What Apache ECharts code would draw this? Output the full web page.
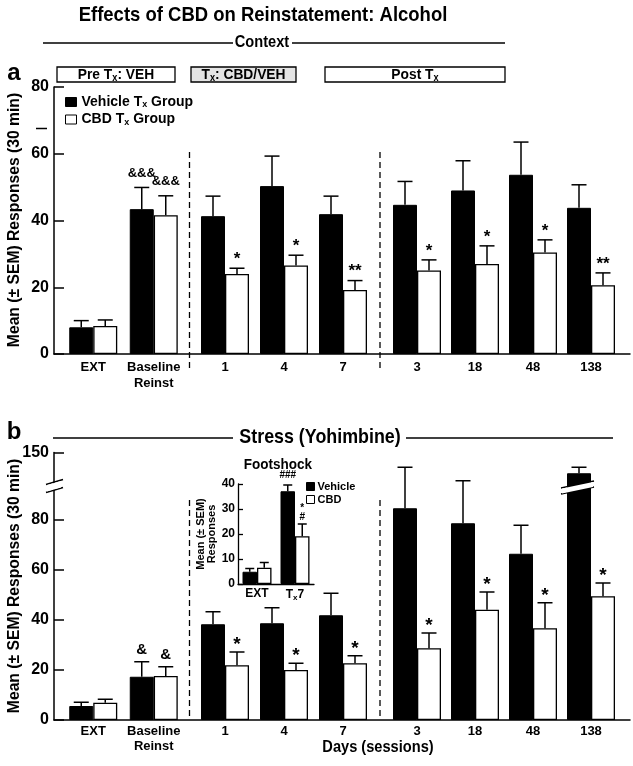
<!DOCTYPE html>
<html>
<head>
<meta charset="utf-8">
<script src="https://cdn.jsdelivr.net/npm/echarts@6/dist/echarts.min.js"></script>
<style>
  html, body { margin: 0; padding: 0; background: #fff; }
  #chart { width: 633px; height: 766px; }
</style>
</head>
<body>
<div id="chart"></div>
<script>
// ---- data ----
var dayLabels = ['EXT', 'Baseline\nReinst', '1', '4', '7', '3', '18', '48', '138'];

// panel a : context-induced reinstatement
var ctxVeh    = [8.0, 43.4, 41.3, 50.3, 41.9, 44.7, 49.0, 53.7, 43.8];
var ctxVehSem = [2.0, 6.5, 6.0, 9.0, 5.4, 7.0, 8.9, 9.8, 6.9];
var ctxCbd    = [8.4, 41.6, 24.0, 26.5, 19.2, 25.0, 27.0, 30.4, 20.6];
var ctxCbdSem = [1.8, 5.8, 1.7, 3.1, 2.8, 3.2, 5.4, 3.8, 3.7];
var ctxVehSig = ['', '&&&', '', '', '', '', '', '', ''];
var ctxCbdSig = ['', '&&&', '*', '*', '**', '*', '*', '*', '**'];

// panel b : stress (yohimbine)
var strVeh    = [5.6, 17.3, 38.3, 38.7, 41.9, 84.7, 78.7, 66.5, 141.7];
var strVehSem = [1.5, 6.0, 5.0, 6.2, 8.8, 16.4, 17.0, 11.4, 2.4];
var strCbd    = [6.9, 17.6, 21.9, 20.0, 22.7, 28.7, 44.1, 36.7, 49.5];
var strCbdSem = [1.4, 3.7, 5.3, 2.7, 3.0, 6.1, 7.1, 10.2, 5.3];
var strVehSig = ['', '&', '', '', '', '', '', '', ''];
var strCbdSig = ['', '&', '*', '*', '*', '*', '*', '*', '*'];

// inset : footshock
var fsLabels = ['EXT', 'Tx7'];
var fsVeh    = [4.9, 37.1];
var fsVehSem = [1.3, 2.5];
var fsCbd    = [6.5, 19.1];
var fsCbdSem = [2.1, 4.9];
var fsVehSig = ['', '###'];
var fsCbdSig = ['', '*\n#'];

// which days belong to Pre Tx / Tx / Post Tx
var sections = [[0, 2], [2, 5], [5, 9]];

// ---- layout ----
var FONT = '"Liberation Sans", Arial, sans-serif';
var secBox = [{ left: 63, width: 121 }, { left: 195.5, width: 177 }, { left: 388, width: 232 }];
var BAR_W = 24, CAP = 15;
var LOW_MAX = 92, HIGH_MIN = 135;

var grids = [], xAxes = [], yAxes = [], series = [];

function addGrid(g, x, y) {
  var i = grids.length;
  grids.push(g);
  x.gridIndex = i; y.gridIndex = i;
  xAxes.push(x); yAxes.push(y);
  return i;
}

function tickLabel(size) {
  return { color: '#000', fontFamily: FONT, fontWeight: 'bold', fontSize: size };
}

function bgAxes(top, height, yMin, yMax, yExtra, showX) {
  var y = {
    type: 'value', min: yMin, max: yMax,
    axisLine: { show: true, lineStyle: { color: '#000', width: 1.5 } },
    axisTick: { show: true, inside: true, length: 10, lineStyle: { color: '#000', width: 1.5 } },
    axisLabel: Object.assign({ margin: 5 }, tickLabel(16)),
    splitLine: { show: false }
  };
  Object.assign(y, yExtra);
  return addGrid({ left: 54, right: 3, top: top, height: height },
    { type: 'value', min: 0, max: 1, axisLine: { show: showX, onZero: false, lineStyle: { color: '#000', width: 1.5 } },
      axisTick: { show: false }, axisLabel: { show: false }, splitLine: { show: false } },
    y);
}

function secAxes(s, top, height, yMin, yMax, cats) {
  return addGrid({ left: secBox[s].left, width: secBox[s].width, top: top, height: height },
    { type: 'category', data: cats, axisLine: { show: false }, axisTick: { show: false },
      axisLabel: Object.assign({ interval: 0, margin: 5, lineHeight: 16 }, tickLabel(13)) },
    { type: 'value', min: yMin, max: yMax, show: false });
}

function bars(idx, veh, cbd, w) {
  series.push({
    type: 'bar', name: 'Vehicle', xAxisIndex: idx, yAxisIndex: idx, data: veh,
    barWidth: w, barGap: '0%', silent: true,
    itemStyle: { color: '#000', borderColor: '#000', borderWidth: 1 }
  }, {
    type: 'bar', name: 'CBD', xAxisIndex: idx, yAxisIndex: idx, data: cbd,
    barWidth: w, barGap: '0%', silent: true,
    itemStyle: { color: '#fff', borderColor: '#000', borderWidth: 1.3 }
  });
}

// error bar (upper half only) + significance mark
function errBars(idx, mean, sem, sig, side, w, cap, sigSize, lift, keep, clip) {
  series.push({
    type: 'custom', xAxisIndex: idx, yAxisIndex: idx, clip: clip, z: 5, silent: true,
    data: mean.map(function (m, i) { return [i, m, m + sem[i]]; }),
    renderItem: function (params, api) {
      if (keep && !keep(api.value(1))) return;
      var c = api.value(0);
      var x = api.coord([c, 0])[0] + side * w / 2;
      var yb = api.coord([c, api.value(1)])[1];
      var yt = api.coord([c, api.value(2)])[1];
      var st = { stroke: '#000', lineWidth: 1.5 };
      var kids = [
        { type: 'line', shape: { x1: x, y1: yb, x2: x, y2: yt }, style: st },
        { type: 'line', shape: { x1: x - cap / 2, y1: yt, x2: x + cap / 2, y2: yt }, style: st }
      ];
      var s = sig[params.dataIndex];
      if (s) {
        var star = s.charAt(0) === '*' && s.indexOf('#') < 0;
        kids.push({ type: 'text', x: x, y: yt - (star ? lift : lift + 5), style: {
          text: s, fill: '#000', align: 'center', verticalAlign: 'bottom',
          fontFamily: FONT, fontWeight: 'bold', fontSize: star ? sigSize + 4 : sigSize,
          lineHeight: sigSize - 1
        } });
      }
      return { type: 'group', children: kids };
    }
  });
}

// panel a
bgAxes(87, 267, 0, 80, { interval: 20 }, true);
sections.forEach(function (r, s) {
  var idx = secAxes(s, 87, 267, 0, 80, dayLabels.slice(r[0], r[1]));
  bars(idx, ctxVeh.slice(r[0], r[1]), ctxCbd.slice(r[0], r[1]), BAR_W);
  errBars(idx, ctxVeh.slice(r[0], r[1]), ctxVehSem.slice(r[0], r[1]), ctxVehSig.slice(r[0], r[1]), -1, BAR_W, CAP, 13, 3, null, false);
  errBars(idx, ctxCbd.slice(r[0], r[1]), ctxCbdSem.slice(r[0], r[1]), ctxCbdSig.slice(r[0], r[1]), 1, BAR_W, CAP, 13, 3, null, false);
});

// panel b, lower part of broken axis
var lowTicks = [0, 20, 40, 60, 80];
bgAxes(490, 230, 0, LOW_MAX, {
  axisTick: { show: true, inside: true, length: 10, customValues: lowTicks, lineStyle: { color: '#000', width: 1.5 } },
  axisLabel: Object.assign({ margin: 5, customValues: lowTicks }, tickLabel(16))
}, true);
// panel b, upper part of broken axis
bgAxes(452.5, 37.5, HIGH_MIN, 150, {
  axisTick: { show: true, inside: true, length: 10, customValues: [150], lineStyle: { color: '#000', width: 1.5 } },
  axisLabel: Object.assign({ margin: 5, customValues: [150] }, tickLabel(16))
}, false);
sections.forEach(function (r, s) {
  var idx = secAxes(s, 490, 230, 0, LOW_MAX, dayLabels.slice(r[0], r[1]));
  xAxes[idx].axisLabel.lineHeight = 15;
  xAxes[idx].axisLabel.margin = 4;
  bars(idx, strVeh.slice(r[0], r[1]), strCbd.slice(r[0], r[1]), BAR_W);
  var low = function (v) { return v <= LOW_MAX; };
  errBars(idx, strVeh.slice(r[0], r[1]), strVehSem.slice(r[0], r[1]), strVehSig.slice(r[0], r[1]), -1, BAR_W, CAP, 15, 0, low, false);
  errBars(idx, strCbd.slice(r[0], r[1]), strCbdSem.slice(r[0], r[1]), strCbdSig.slice(r[0], r[1]), 1, BAR_W, CAP, 15, 0, low, false);
});
var post = sections[2];
var upIdx = secAxes(2, 452.5, 37.5, HIGH_MIN, 150, dayLabels.slice(post[0], post[1]));
xAxes[upIdx].axisLabel.show = false;
bars(upIdx, strVeh.slice(post[0], post[1]), strCbd.slice(post[0], post[1]), BAR_W);
errBars(upIdx, strVeh.slice(post[0], post[1]), strVehSem.slice(post[0], post[1]), strVehSig.slice(post[0], post[1]), -1, BAR_W, CAP, 15, 0,
  function (v) { return v >= HIGH_MIN; }, true);

// inset
var fsIdx = addGrid({ left: 238, width: 76, top: 484, height: 100 },
  { type: 'category', data: fsLabels,
    axisLine: { show: true, lineStyle: { color: '#000', width: 1.3 } }, axisTick: { show: false },
    axisLabel: Object.assign({ interval: 0, margin: 4,
      formatter: function (v) { return v === 'Tx7' ? '{m|T}{s|x}{m|7}' : '{m|' + v + '}'; },
      rich: { m: tickLabel(12), s: Object.assign({ padding: [6, 0, 0, 0] }, tickLabel(8)) } }, tickLabel(12)) },
  { type: 'value', min: 0, max: 40, interval: 10,
    axisLine: { show: true, lineStyle: { color: '#000', width: 1.3 } },
    axisTick: { show: true, inside: true, length: 5, lineStyle: { color: '#000', width: 1.3 } },
    axisLabel: Object.assign({ margin: 3 }, tickLabel(12)),
    splitLine: { show: false },
    name: 'Mean (± SEM)\nResponses', nameLocation: 'middle', nameRotate: 90, nameGap: 17,
    nameTextStyle: { color: '#000', fontFamily: FONT, fontWeight: 'bold', fontSize: 11, lineHeight: 11 } });
bars(fsIdx, fsVeh, fsCbd, 14.5);
errBars(fsIdx, fsVeh, fsVehSem, fsVehSig, -1, 14.5, 9, 10, 0, null, false);
errBars(fsIdx, fsCbd, fsCbdSem, fsCbdSig, 1, 14.5, 9, 10, -3, null, false);

// ---- decorations ----
function txt(text, x, y, size, sx, extra) {
  return Object.assign({ type: 'text', x: x, y: y, z: 50, silent: true, scaleX: sx || 1, style: {
    text: text, fill: '#000', fontFamily: FONT, fontWeight: 'bold', fontSize: size,
    align: 'center', verticalAlign: 'middle' } }, extra || {});
}
function seg(x1, y1, x2, y2, w, dash) {
  return { type: 'line', z: 50, silent: true, shape: { x1: x1, y1: y1, x2: x2, y2: y2 },
    style: { stroke: '#000', lineWidth: w || 1.3, lineDash: dash || null } };
}
var subRich = {
  m: { fontFamily: FONT, fontWeight: 'bold', fontSize: 15, color: '#000' },
  s: { fontFamily: FONT, fontWeight: 'bold', fontSize: 10, color: '#000', padding: [7, 0, 0, 0] }
};
function box(x, y, w, h, fill, label) {
  return [
    { type: 'rect', z: 50, silent: true, shape: { x: x, y: y, width: w, height: h },
      style: { fill: fill, stroke: '#000', lineWidth: 1.3 } },
    { type: 'text', z: 51, silent: true, x: x + w / 2, y: y + h / 2, scaleX: 0.92,
      style: { text: label, rich: subRich, align: 'center', verticalAlign: 'middle' } }
  ];
}

var dashX = [189.5, 380];
var graphics = [
  txt('Effects of CBD on Reinstatement: Alcohol', 263, 15, 21, 0.88),
  txt('Context', 262, 42, 17, 0.86),
  seg(43, 43, 233, 43), seg(292, 43, 505, 43),
  txt('a', 14, 73, 24),
  txt('b', 14, 432, 24),
  txt('Stress (Yohimbine)', 320, 437, 21, 0.85),
  seg(53, 438, 233, 438), seg(406, 438, 613, 438),
  txt('Mean (± SEM) Responses (30 min)', 15, 220, 16, 0.98, { rotation: Math.PI / 2 }),
  txt('Mean (± SEM) Responses (30 min)', 15, 586, 16, 0.98, { rotation: Math.PI / 2 }),
  txt('Days (sessions)', 378, 747, 17, 0.86),
  txt('Footshock', 278, 465, 15, 0.9),
  seg(36, 128.5, 47, 128.5, 1.5),
  seg(dashX[0], 152, dashX[0], 368, 1.3, [6, 4]), seg(dashX[1], 152, dashX[1], 368, 1.3, [6, 4]),
  seg(dashX[0], 500, dashX[0], 720, 1.3, [6, 4]), seg(dashX[1], 500, dashX[1], 720, 1.3, [6, 4]),
  // axis break
  { type: 'polygon', z: 60, silent: true, shape: { points: [[47, 485], [61, 481], [61, 487.5], [47, 491.5]] }, style: { fill: '#fff' } },
  seg(46, 484.5, 63, 479.5, 1.5), seg(46, 492.5, 63, 487.5, 1.5),
  // bar break (day 138)
  { type: 'polygon', z: 60, silent: true, shape: { points: [[562, 488.5], [593, 482], [593, 487], [562, 493.5]] }, style: { fill: '#fff' } },
  seg(561, 488, 594, 481, 1.5), seg(561, 494, 594, 487, 1.5)
].concat(
  box(57, 67, 118, 15, '#fff', '{m|Pre T}{s|x}{m|: VEH}'),
  box(191, 67, 105, 15, '#e4e4e4', '{m|T}{s|x}{m|: CBD/VEH}'),
  box(325, 67, 180, 15, '#fff', '{m|Post T}{s|x}')
);

var legendText = { color: '#000', fontFamily: FONT, fontWeight: 'bold' };

var option = {
  animation: false,
  backgroundColor: '#fff',
  legend: [{
    data: ['Vehicle', 'CBD'], orient: 'vertical', left: 60, top: 90,
    icon: 'rect', itemWidth: 11, itemHeight: 9, itemGap: 3, selectedMode: false,
    itemStyle: { borderColor: '#000', borderWidth: 1 },
    formatter: function (n) { return '{m|' + n + ' T}{s|x}{m| Group}'; },
    textStyle: { rich: {
      m: Object.assign({ fontSize: 14 }, legendText),
      s: Object.assign({ fontSize: 9, padding: [6, 0, 0, 0] }, legendText) } }
  }, {
    data: ['Vehicle', 'CBD'], orient: 'vertical', left: 301, top: 476,
    icon: 'rect', itemWidth: 8, itemHeight: 8, itemGap: 2, selectedMode: false,
    itemStyle: { borderColor: '#000', borderWidth: 1 },
    textStyle: Object.assign({ fontSize: 11, padding: [0, 0, 0, -2] }, legendText)
  }],
  grid: grids,
  xAxis: xAxes,
  yAxis: yAxes,
  series: series,
  graphic: graphics
};

var chart = echarts.init(document.getElementById('chart'));
chart.setOption(option);
</script>
</body>
</html>
